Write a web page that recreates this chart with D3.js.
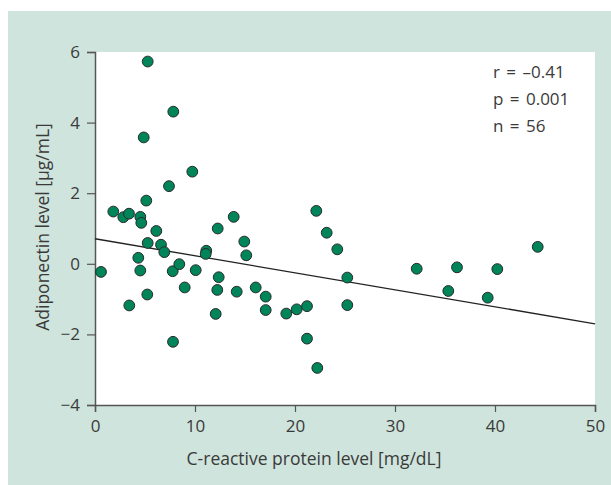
<!DOCTYPE html>
<html>
<head>
<meta charset="utf-8">
<script src="https://cdn.jsdelivr.net/npm/d3@7"></script>
<style>
  body { margin: 0; background: #fff; }
  text { font-family: "Open Sans", "Noto Sans", sans-serif; }
</style>
</head>
<body>
<svg id="chart" width="611" height="485"></svg>
<script>
// CRP level (mg/dL)
var crp = [5.27, 7.83, 4.87, 9.73, 7.4, 5.13, 1.83, 2.83, 3.4, 4.53, 4.63, 6.13, 12.27, 13.87,
  14.93, 5.27, 6.6, 6.93, 4.33, 0.6, 4.53, 5.23, 3.43, 7.77, 8.43, 7.8, 10.07, 8.97, 11.13,
  11.07, 15.13, 12.37, 12.23, 14.17, 16.07, 17.07, 17.07, 12.07, 19.13, 22.13, 23.17, 24.23,
  25.23, 25.23, 20.17, 21.2, 21.2, 22.23, 32.17, 36.2, 40.23, 44.27, 35.33, 39.27];
// adiponectin level (ug/mL)
var adiponectin = [5.73, 4.31, 3.58, 2.61, 2.2, 1.79, 1.48, 1.32, 1.42, 1.33, 1.16, 0.93, 1.0, 1.33,
  0.63, 0.59, 0.54, 0.33, 0.17, -0.23, -0.19, -0.87, -1.18, -0.21, -0.01, -2.21, -0.18, -0.67, 0.37,
  0.28, 0.24, -0.38, -0.74, -0.79, -0.67, -0.93, -1.31, -1.42, -1.41, 1.5, 0.88, 0.41,
  -0.39, -1.17, -1.29, -1.2, -2.12, -2.95, -0.14, -0.1, -0.15, 0.48, -0.77, -0.96];

var xTicks = [0, 10, 20, 30, 40, 50];
var yTicks = [-4, -2, 0, 2, 4, 6];
var fitX = [0, 50];
var fitY = [0.71, -1.70];
var stats = ["r = \u20130.41", "p = 0.001", "n = 56"];

var width = 611, height = 485;

var svg = d3.select("#chart");

// light green panel
svg.append("rect")
  .attr("x", 8).attr("y", 11)
  .attr("width", width - 8).attr("height", height - 11)
  .attr("fill", "#cfe4dc");

var x = d3.scaleLinear().domain([0, 50]).range([95, 595]);
var y = d3.scaleLinear().domain([-4, 6]).range([405, 52]);

svg.append("rect")
  .attr("x", x(0)).attr("y", y(6))
  .attr("width", x(50) - x(0)).attr("height", y(-4) - y(6))
  .attr("fill", "#fff");

var xAxis = svg.append("g")
  .attr("transform", "translate(0," + y(-4) + ")")
  .call(d3.axisBottom(x).tickValues(xTicks).tickSize(7).tickPadding(8).tickFormat(d3.format("d")));

var yAxis = svg.append("g")
  .attr("transform", "translate(" + x(0) + ",0)")
  .call(d3.axisLeft(y).tickValues(yTicks).tickSize(8).tickPadding(7)
    .tickFormat(function (d) { return d < 0 ? "\u2212" + Math.abs(d) : d; }));

[xAxis, yAxis].forEach(function (a) {
  a.select(".domain").attr("stroke", "#555").attr("stroke-width", 1.5);
  a.selectAll(".tick line").attr("stroke", "#555").attr("stroke-width", 1.2);
  a.selectAll(".tick text").attr("fill", "#3a3a3a").attr("font-size", 17)
    .attr("font-family", "'Open Sans', 'Noto Sans', sans-serif");
});

// regression line
svg.append("line")
  .attr("x1", x(fitX[0])).attr("y1", y(fitY[0]))
  .attr("x2", x(fitX[1])).attr("y2", y(fitY[1]))
  .attr("stroke", "#222").attr("stroke-width", 1.3);

svg.selectAll(".dot")
  .data(crp)
  .enter()
  .append("circle")
  .attr("class", "dot")
  .attr("cx", function (d) { return x(d); })
  .attr("cy", function (d, i) { return y(adiponectin[i]); })
  .attr("r", 5.4)
  .attr("fill", "#00845a")
  .attr("stroke", "#2a2a2a")
  .attr("stroke-width", 1);

svg.selectAll(".stat")
  .data(stats)
  .enter()
  .append("text")
  .attr("class", "stat")
  .attr("x", 493)
  .attr("y", function (d, i) { return 78 + i * 27; })
  .attr("font-size", 17)
  .attr("fill", "#3a3a3a")
  .attr("word-spacing", 2)
  .text(function (d) { return d; });

svg.append("text")
  .attr("x", 314).attr("y", 465)
  .attr("text-anchor", "middle")
  .attr("font-size", 17.5)
  .attr("fill", "#3a3a3a")
  .text("C-reactive protein level [mg/dL]");

svg.append("text")
  .attr("transform", "translate(49,227) rotate(-90)")
  .attr("text-anchor", "middle")
  .attr("font-size", 17.5)
  .attr("fill", "#3a3a3a")
  .text("Adiponectin level [\u03bcg/mL]");
</script>
</body>
</html>
